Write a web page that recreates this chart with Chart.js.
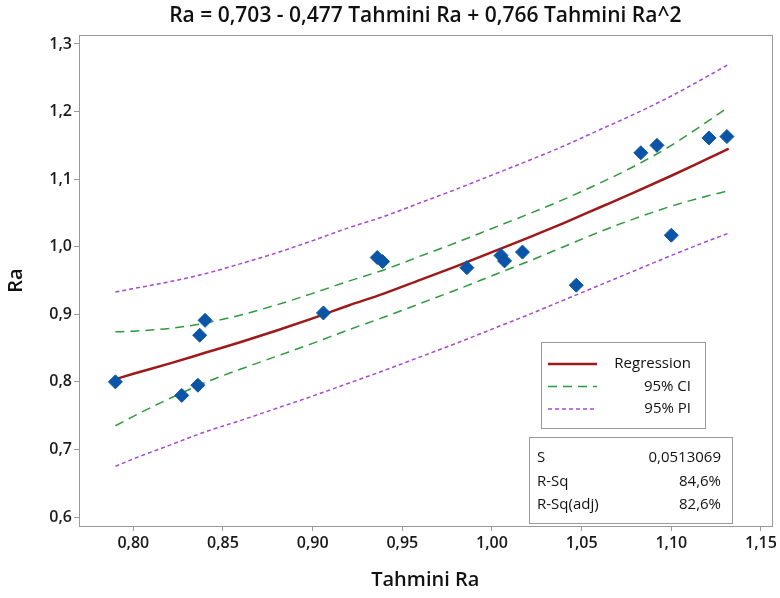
<!DOCTYPE html>
<html>
<head>
<meta charset="utf-8">
<script src="https://cdn.jsdelivr.net/npm/chart.js@4.4.1/dist/chart.umd.min.js"></script>
<style>
  html, body { margin: 0; padding: 0; background: #fff; }
  #wrap { width: 780px; height: 598px; position: relative; }
</style>
</head>
<body>
<div id="wrap"><canvas id="fitChart" width="780" height="598"></canvas></div>
<script>
// === Donnees ===
const obsX = [0.790, 0.827, 0.836, 0.837, 0.840, 0.906, 0.936, 0.939, 0.986, 1.005,
              1.007, 1.017, 1.047, 1.083, 1.092, 1.100, 1.121, 1.131];
const obsY = [0.800, 0.780, 0.795, 0.869, 0.891, 0.902, 0.984, 0.978, 0.969, 0.987,
              0.979, 0.992, 0.943, 1.139, 1.150, 1.017, 1.161, 1.163];

const fitX   = [0.79, 0.80, 0.82, 0.84, 0.86, 0.88, 0.90, 0.92, 0.94, 0.96,
                0.98, 1.00, 1.02, 1.04, 1.06, 1.08, 1.10, 1.12, 1.132];
const fitY   = [0.804, 0.812, 0.827, 0.843, 0.859, 0.876, 0.894, 0.913, 0.931, 0.951,
                0.971, 0.992, 1.013, 1.035, 1.058, 1.081, 1.105, 1.130, 1.145];
const ciUp   = [0.874, 0.875, 0.879, 0.887, 0.899, 0.914, 0.931, 0.949, 0.966, 0.986,
                1.006, 1.027, 1.048, 1.070, 1.094, 1.120, 1.150, 1.185, 1.207];
const ciLow  = [0.735, 0.749, 0.775, 0.799, 0.819, 0.838, 0.857, 0.877, 0.896, 0.916,
                0.936, 0.957, 0.978, 1.000, 1.022, 1.042, 1.060, 1.075, 1.083];
const piUp   = [0.933, 0.938, 0.948, 0.960, 0.975, 0.991, 1.009, 1.028, 1.045, 1.065,
                1.085, 1.106, 1.127, 1.149, 1.173, 1.197, 1.223, 1.252, 1.270];
const piLow  = [0.675, 0.686, 0.706, 0.726, 0.743, 0.761, 0.779, 0.798, 0.817, 0.837,
                0.857, 0.878, 0.899, 0.921, 0.943, 0.965, 0.987, 1.008, 1.020];

const xTicks = [0.80, 0.85, 0.90, 0.95, 1.00, 1.05, 1.10, 1.15];
const yTicks = [0.6, 0.7, 0.8, 0.9, 1.0, 1.1, 1.2, 1.3];

const titleText = "Ra = 0,703 - 0,477 Tahmini Ra + 0,766 Tahmini Ra^2";
const legendLabels = ["Regression", "95% CI", "95% PI"];
const statNames = ["S", "R-Sq", "R-Sq(adj)"];
const statValues = ["0,0513069", "84,6%", "82,6%"];

// === Style ===
const FONT = "'Open Sans', 'Noto Sans', sans-serif";
const RED = "#9e1a1a";
const GREEN = "#2f9a3c";
const PURPLE = "#a847d0";
const BLUE = "#0a55a6";
const FRAME = "#9a9a9a";

function pts(xs, ys) {
  return xs.map((x, i) => ({ x: x, y: ys[i] }));
}
function comma(v, d) {
  return v.toFixed(d).replace(".", ",");
}

// cadre + titre + legende + stats
const decorPlugin = {
  id: "decor",
  afterDraw(chart) {
    const ctx = chart.ctx;
    const a = chart.chartArea;
    ctx.save();
    ctx.strokeStyle = FRAME;
    ctx.lineWidth = 1;
    ctx.strokeRect(Math.round(a.left) + 0.5, Math.round(a.top) + 0.5,
                   Math.round(a.right - a.left), Math.round(a.bottom - a.top));

    // titre
    ctx.fillStyle = "#111";
    ctx.font = "600 21px " + FONT;
    ctx.textAlign = "center";
    ctx.textBaseline = "middle";
    ctx.fillText(titleText, (a.left + a.right) / 2, 16);

    // legende
    const lx = 541, ly = 342, lw = 164, lh = 86;
    ctx.fillStyle = "#fff";
    ctx.fillRect(lx, ly, lw, lh);
    ctx.strokeStyle = FRAME;
    ctx.strokeRect(lx + 0.5, ly + 0.5, lw, lh);
    const styles = [
      { c: RED, w: 2.5, d: [] },
      { c: GREEN, w: 1.5, d: [9, 6] },
      { c: PURPLE, w: 1.5, d: [4, 3] },
    ];
    ctx.font = "15px " + FONT;
    ctx.textAlign = "right";
    legendLabels.forEach((lab, i) => {
      const yy = ly + 22 + i * 22.5;
      ctx.beginPath();
      ctx.setLineDash(styles[i].d);
      ctx.strokeStyle = styles[i].c;
      ctx.lineWidth = styles[i].w;
      ctx.moveTo(lx + 7, yy);
      ctx.lineTo(lx + 56, yy);
      ctx.stroke();
      ctx.setLineDash([]);
      ctx.fillStyle = "#111";
      ctx.fillText(lab, lx + 150, yy);
    });

    // statistiques
    const sx = 529, sy = 437, sw = 203, sh = 86;
    ctx.fillStyle = "#fff";
    ctx.fillRect(sx, sy, sw, sh);
    ctx.strokeStyle = FRAME;
    ctx.lineWidth = 1;
    ctx.strokeRect(sx + 0.5, sy + 0.5, sw, sh);
    ctx.fillStyle = "#111";
    statNames.forEach((n, i) => {
      const yy = sy + 21 + i * 23.5;
      ctx.textAlign = "left";
      ctx.fillText(n, sx + 8, yy);
      ctx.textAlign = "right";
      ctx.fillText(statValues[i], sx + 192, yy);
    });
    ctx.restore();
  },
};

const lineDs = (label, ys, color, width, dash, order) => ({
  type: "line",
  label: label,
  data: pts(fitX, ys),
  borderColor: color,
  borderWidth: width,
  borderDash: dash,
  pointRadius: 0,
  fill: false,
  cubicInterpolationMode: "monotone",
  order: order,
});

new Chart(document.getElementById("fitChart").getContext("2d"), {
  type: "scatter",
  data: {
    datasets: [
      {
        label: "Ra",
        data: pts(obsX, obsY),
        pointStyle: "rectRot",
        pointRadius: 7,
        backgroundColor: BLUE,
        borderColor: BLUE,
        borderWidth: 1,
        order: 0,
      },
      lineDs("Regression", fitY, RED, 2.5, [], 1),
      lineDs("CI+", ciUp, GREEN, 1.5, [9, 6], 2),
      lineDs("CI-", ciLow, GREEN, 1.5, [9, 6], 2),
      lineDs("PI+", piUp, PURPLE, 1.5, [4, 3], 3),
      lineDs("PI-", piLow, PURPLE, 1.5, [4, 3], 3),
    ],
  },
  options: {
    responsive: false,
    animation: false,
    layout: { padding: { top: 35, right: 4, left: 0, bottom: 0 } },
    plugins: {
      legend: { display: false },
      title: { display: false },
      tooltip: { enabled: false },
    },
    scales: {
      x: {
        type: "linear",
        min: 0.7697,
        max: 1.1559,
        afterBuildTicks: (s) => { s.ticks = xTicks.map((v) => ({ value: v })); },
        afterFit: (s) => { s.height = 72; },
        grid: { drawOnChartArea: false, tickLength: 5, color: FRAME },
        border: { color: FRAME },
        ticks: {
          color: "#1a1a1a",
          font: { family: FONT, size: 16, weight: "600" },
          padding: 3,
          maxRotation: 0,
          callback: (v) => comma(v, 2),
        },
        title: {
          display: true,
          text: "Tahmini Ra",
          color: "#111",
          font: { family: FONT, size: 20, weight: "600" },
          padding: { top: 6, bottom: 6 },
        },
      },
      y: {
        type: "linear",
        min: 0.5867,
        max: 1.3133,
        afterBuildTicks: (s) => { s.ticks = yTicks.map((v) => ({ value: v })); },
        afterFit: (s) => { s.width = 79; },
        grid: { drawOnChartArea: false, tickLength: 5, color: FRAME },
        border: { color: FRAME },
        ticks: {
          color: "#1a1a1a",
          font: { family: FONT, size: 16, weight: "600" },
          padding: 2,
          callback: (v) => comma(v, 1),
        },
        title: {
          display: true,
          text: "Ra",
          color: "#111",
          font: { family: FONT, size: 20, weight: "600" },
          padding: { top: 4, bottom: 4 },
        },
      },
    },
  },
  plugins: [decorPlugin],
});
</script>
</body>
</html>
